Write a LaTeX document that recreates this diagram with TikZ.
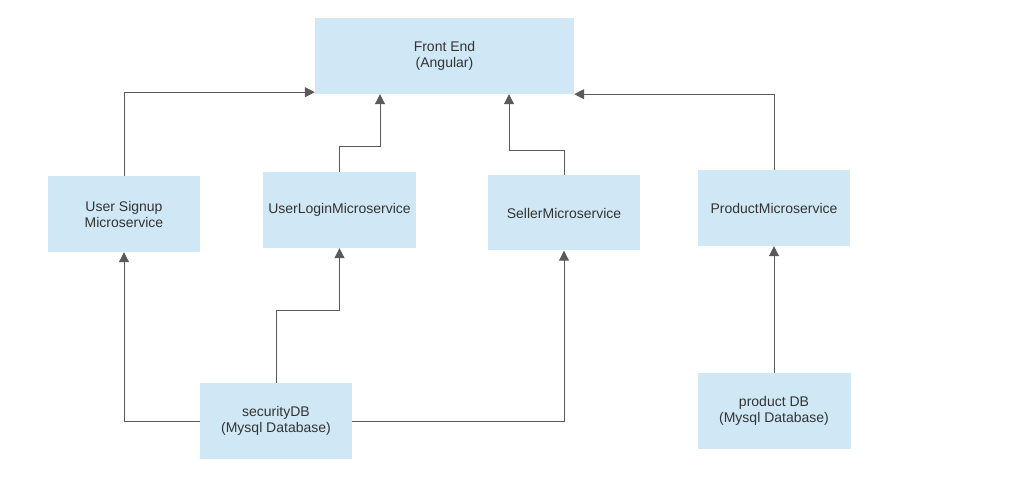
\documentclass[tikz,border=0pt]{standalone}
\usepackage{fontspec}
\setmainfont{Liberation Sans}
\usetikzlibrary{arrows.meta}
\definecolor{boxfill}{HTML}{D0E8F5}
\definecolor{txt}{HTML}{333333}
\definecolor{linec}{HTML}{5A5A5A}
\tikzset{
  box/.style={fill=boxfill, draw=none, inner sep=0pt, align=center, text=txt,
    font=\fontsize{14}{16}\selectfont},
  arr/.style={draw=linec, line width=1pt, -{Triangle[length=10pt,width=10pt]}}
}
\begin{document}
\begin{tikzpicture}[x=1pt,y=-1pt]
\useasboundingbox (0,0) rectangle (1015,489);
\node[box, minimum width=259pt, minimum height=76pt] (fe) at (444.5,56) {Front End\\(Angular)};
\node[box, minimum width=152pt, minimum height=76pt] (us) at (124,214) {User Signup\\Microservice};
\node[box, minimum width=153pt, minimum height=76pt] (ul) at (339.5,210) {UserLoginMicroservice};
\node[box, minimum width=152pt, minimum height=75pt] (se) at (564,213) {SellerMicroservice};
\node[box, minimum width=152pt, minimum height=76pt] (pm) at (774,208) {ProductMicroservice};
\node[box, minimum width=152pt, minimum height=76pt] (sdb) at (276,421) {securityDB\\(Mysql Database)};
\node[box, minimum width=153pt, minimum height=76pt] (pdb) at (774,411) {product DB\\(Mysql Database)};

\draw[arr] (us.north) |- ([yshift=2pt]fe.south west);
\draw[arr] (ul.north) -- ++(0,-25) -| ([xshift=-64.5pt]fe.south);
\draw[arr] (se.north) -- ++(0,-25) -| ([xshift=64.5pt]fe.south);
\draw[arr] (pm.north) |- (fe.south east);
\draw[arr] (sdb.west) -| (us.south);
\draw[arr] (sdb.north) -- ++(0,-72) -| (ul.south);
\draw[arr] (sdb.east) -| (se.south);
\draw[arr] (pdb.north) -- (pm.south);
\end{tikzpicture}
\end{document}
